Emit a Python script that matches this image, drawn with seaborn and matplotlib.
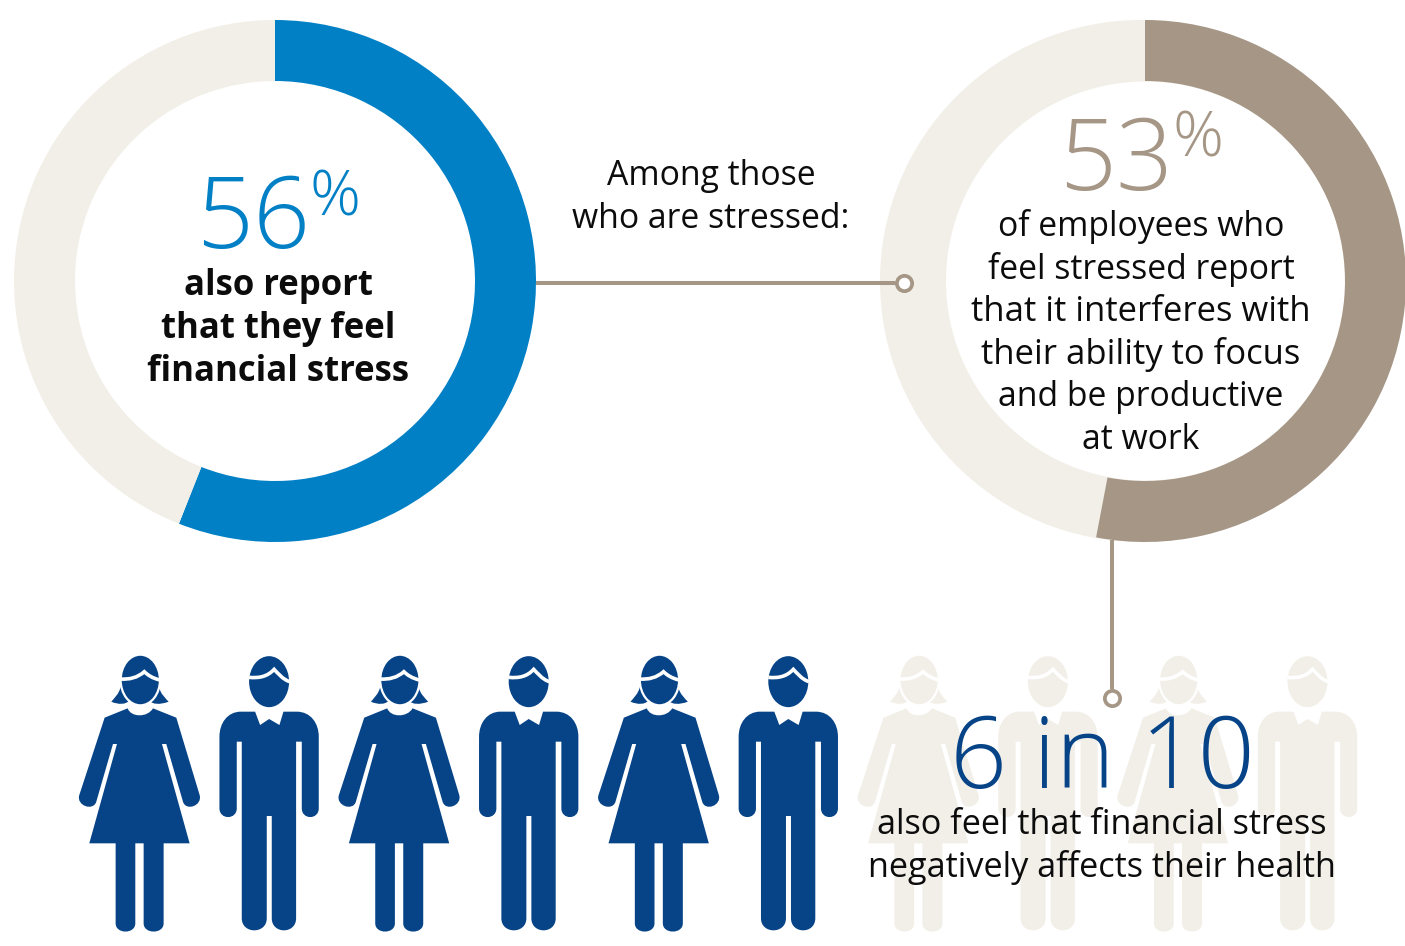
import matplotlib
matplotlib.use("Agg")
import matplotlib.pyplot as plt
from matplotlib.patches import Circle, Ellipse, PathPatch
from matplotlib.path import Path
import seaborn as sns

# Survey figures
stress_share = [56, 44]
productivity_share = [53, 47]
people_total = 10
people_affected = 6

# Text
left_big = "56"
left_lines = ["also report", "that they feel", "financial stress"]
bridge_lines = ["Among those", "who are stressed:"]
right_big = "53"
right_lines = ["of employees who", "feel stressed report", "that it interferes with",
               "their ability to focus", "and be productive", "at work"]
bottom_big = "6 in 10"
bottom_lines = ["also feel that financial stress", "negatively affects their health"]

BLUE = "#0280c6"
BEIGE = "#f2efe8"
TAUPE = "#a59686"
NAVY = "#064487"
INK = "#0c0c0c"
W, H = 1405, 946

sns.set_theme(style="white")
plt.rcParams["font.family"] = ["Open Sans", "DejaVu Sans"]

fig = plt.figure(figsize=(W / 100, H / 100), dpi=100)
ax = fig.add_axes([0, 0, 1, 1])


def Y(py):
    return H - py


# Left ring: both shares in a single pie
ax.pie(stress_share, colors=[BLUE, BEIGE], startangle=90, counterclock=False,
       center=(275, Y(281)), radius=261, frame=True,
       wedgeprops=dict(width=61, linewidth=0))

# Right ring: a pale track with the share laid over it
ax.pie([100], colors=[BEIGE], startangle=90, center=(1141, Y(281)), radius=261, frame=True,
       wedgeprops=dict(linewidth=0, zorder=1))
ax.add_patch(Circle((1145.5, Y(281)), 199.5, fc="white", ec="none", zorder=1.2))
ax.pie(productivity_share, colors=[TAUPE, "none"], startangle=90, counterclock=False,
       center=(1145, Y(281)), radius=261, frame=True,
       wedgeprops=dict(width=61, linewidth=0, zorder=1.5))

ax.set_xlim(0, W)
ax.set_ylim(0, H)
ax.set_aspect("equal")
ax.set_xticks([])
ax.set_yticks([])
sns.despine(ax=ax, left=True, bottom=True)


def label(x, py, s, size, color=INK, weight="normal"):
    ax.text(x, Y(py), s, fontsize=size, color=color, fontweight=weight,
            ha="center", va="baseline", zorder=6)


def stacked(x, first, lines, size, step=42.6, weight="normal"):
    for i, s in enumerate(lines):
        # the two longest caption lines run a touch larger
        line_size = size + 0.6 if s.startswith(("that it", "their ability")) else size
        label(x, first + i * step, s, line_size, weight=weight)


# Connectors with ring ends
ax.plot([536, 895], [Y(283)] * 2, color=TAUPE, lw=2.9, solid_capstyle="butt", zorder=3)
ax.plot([904], [Y(283)], "o", ms=11, mfc="white", mec=TAUPE, mew=2.7, zorder=4)
ax.plot([1112, 1112], [Y(540), Y(689)], color=TAUPE, lw=2.9, solid_capstyle="butt", zorder=3)
ax.plot([1112], [Y(698)], "o", ms=11, mfc="white", mec=TAUPE, mew=2.7, zorder=4)

# Pictogram outlines, in a 3x grid centred on the figure's axis
M, L, C, Z = Path.MOVETO, Path.LINETO, Path.CURVE4, Path.CLOSEPOLY


def shape(dx, verts, codes, color, z=2):
    pts = [(dx + vx / 3, Y(645 + vy / 3)) for vx, vy in verts]
    ax.add_patch(PathPatch(Path(pts, codes), fc=color, ec="none", lw=0, zorder=z))


def fringe(dx, verts, z=2.5):
    pts = [(dx + vx / 3, Y(645 + vy / 3)) for vx, vy in verts]
    ax.add_patch(PathPatch(Path(pts, [M, C, C, C, C, C, C]), fc="none", ec="white", lw=2.6,
                           capstyle="butt", zorder=z))


def woman(dx, color):
    # hair
    shape(dx, [(-55, 122), (-60, 148), (-78, 162), (-84, 170), (-62, 180), (-40, 178), (-32, 168), (-55, 122)],
          [M, C, C, C, C, C, C, Z], color)
    shape(dx, [(58, 122), (63, 148), (81, 162), (88, 170), (62, 180), (40, 178), (32, 168), (58, 122)],
          [M, C, C, C, C, C, C, Z], color)
    ax.add_patch(Ellipse((dx + 1, Y(645 + 105 / 3)), 118 / 3, 152 / 3, fc=color, ec="white", lw=1.6, zorder=2.2))
    fringe(dx, [(-56, 102), (-30, 104), (-5, 98), (15, 80), (25, 90), (40, 100), (62, 105)])
    verts = [(-35, 190), (-25, 218), (25, 218), (41, 190),
             (111, 218), (181, 450),
             (190, 482), (140, 500), (131, 470),
             (81, 297), (68, 297), (151, 595),
             (73, 595), (73, 835), (73, 868), (13, 868), (13, 835), (13, 595),
             (-12, 595), (-12, 835), (-12, 868), (-71, 868), (-71, 835), (-71, 595),
             (-150, 595), (-67, 297), (-79, 297), (-129, 470),
             (-138, 500), (-190, 482), (-180, 450),
             (-104, 218), (-35, 190)]
    codes = [M, C, C, C,
             L, L,
             C, C, C,
             L, L, L,
             L, L, C, C, C, L,
             L, L, C, C, C, L,
             L, L, L, L,
             C, C, C,
             L, Z]
    shape(dx, verts, codes, color)


def man(dx, color):
    ax.add_patch(Ellipse((dx, Y(645 + 110 / 3)), 120 / 3, 153 / 3, fc=color, ec="none", zorder=2.2))
    fringe(dx, [(-60, 97), (-30, 100), (-5, 95), (15, 73), (25, 83), (40, 103), (62, 110)])
    verts = [(-42, 200), (-85, 200),
             (-125, 200), (-149, 235), (-149, 275),
             (-149, 490),
             (-149, 525), (-97, 525), (-97, 490),
             (-97, 290), (-82, 290),
             (-82, 820), (-82, 868), (-7, 868), (-7, 820),
             (-7, 513), (8, 513),
             (8, 820), (8, 868), (81, 868), (81, 820),
             (81, 290), (98, 290),
             (98, 490), (98, 525), (149, 525), (149, 490),
             (149, 275),
             (149, 235), (125, 200), (83, 200),
             (43, 200), (31, 240), (0, 222), (-27, 240), (-42, 200)]
    codes = [M, L,
             C, C, C,
             L,
             C, C, C,
             L, L,
             L, C, C, C,
             L, L,
             L, C, C, C,
             L, L,
             L, C, C, C,
             L,
             C, C, C,
             L, L, L, L, Z]
    shape(dx, verts, codes, color)


for i in range(people_total):
    tint = NAVY if i < people_affected else BEIGE
    axis_x = 139.3 + i * 129.8
    (woman if i % 2 == 0 else man)(axis_x, tint)

# Headline numbers and captions
label(253, 248, left_big, 72, BLUE, "light")
label(335, 215, "%", 45.5, BLUE, "light")
stacked(278, 295.5, left_lines, 25, weight="bold")
stacked(711, 185, bridge_lines, 24.3)
label(1116, 190, right_big, 72, TAUPE, "light")
label(1198, 157, "%", 45.5, TAUPE, "light")
stacked(1141, 236, right_lines, 24.3)
label(1102.5, 788, bottom_big, 72, NAVY, "light")
stacked(1102, 834, bottom_lines, 24.7)

fig.savefig("out.png", dpi=100)
